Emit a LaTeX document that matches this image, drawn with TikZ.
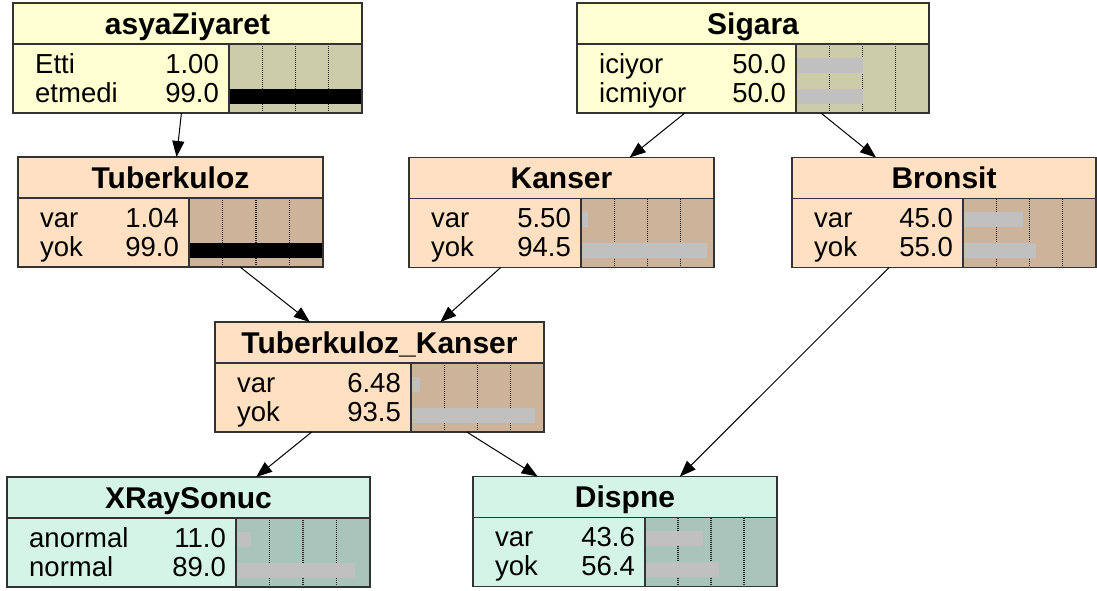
\documentclass[tikz,border=0pt]{standalone}
\usepackage{fontspec}
\setmainfont{Liberation Sans}
\usetikzlibrary{arrows.meta}
\definecolor{ylw}{HTML}{FFFFD2}
\definecolor{ylwbar}{HTML}{CCCBAA}
\definecolor{pch}{HTML}{FFE0C2}
\definecolor{pchbar}{HTML}{CCB399}
\definecolor{mnt}{HTML}{D4F4E8}
\definecolor{mntbar}{HTML}{A9C4BA}
\definecolor{barg}{HTML}{C0C0C0}
\definecolor{bord}{HTML}{333333}
\tikzset{
  bnshape/.style={rectangle, inner sep=0pt, outer sep=0pt, anchor=north west},
  bnline/.style={draw=bord, line width=1.4pt},
  gridline/.style={draw=black!85, line width=1.1pt, dash pattern=on 1pt off 1pt},
  titletext/.style={anchor=base, inner sep=0pt, font=\fontsize{30}{30}\selectfont\bfseries},
  statetext/.style={anchor=base west, inner sep=0pt, font=\fontsize{27.5}{27.5}\selectfont},
  valtext/.style={anchor=base east, inner sep=0pt, font=\fontsize{27.5}{27.5}\selectfont},
  link/.style={draw=black, line width=1pt, -{Triangle[length=16pt,width=12pt]}},
}
% #1 name, #2 x0, #3 y0, #4 x1, #5 bar x, #6 title, #7 fill, #8 bar area fill
\newcommand{\bnnode}[8]{%
  \def\BNname{#1}\def\BNx{#2}\def\BNy{#3}\def\BNxx{#4}\def\BNbar{#5}%
  \node[bnshape, fill=#7, minimum width={#4-#2}, minimum height=110] (#1) at (#2,#3) {};
  \fill[#8] (#5,#3+41) rectangle (#4,#3+110);
  \draw[gridline] ({#5+(#4-#5)*0.25},#3+41) -- ++(0,69);
  \draw[gridline] ({#5+(#4-#5)*0.5},#3+41) -- ++(0,69);
  \draw[gridline] ({#5+(#4-#5)*0.75},#3+41) -- ++(0,69);
  \node[titletext] (#1-title) at ({(#2+#4)/2},#3+31) {#6};
}
% #1 row id, #2 text baseline offset, #3 bar top offset, #4 state, #5 value, #6 percent, #7 bar colour
\newcommand{\bnrow}[7]{%
  \node[statetext] (\BNname-s#1) at (\BNx+22,\BNy+#2) {#4};
  \node[valtext] (\BNname-v#1) at (\BNbar-10,\BNy+#2) {#5};
  \fill[#7] (\BNbar,\BNy+#3) rectangle ({\BNbar+(\BNxx-\BNbar)*#6/100},\BNy+#3+15);
}
\newcommand{\bnend}{%
  \draw[bnline] (\BNx,\BNy+41) -- (\BNxx,\BNy+41);
  \draw[bnline] (\BNbar,\BNy+41) -- (\BNbar,\BNy+110);
  \draw[bnline] (\BNname.north west) rectangle (\BNname.south east);
}
\begin{document}
\begin{tikzpicture}[x=1pt,y=-1pt]
\fill[white] (0,0) rectangle (1097,590);
\useasboundingbox (0,0) rectangle (1097,590);

\bnnode{asya}{13}{3}{362}{229}{asyaZiyaret}{ylw}{ylwbar}
\bnrow{1}{70}{54.5}{Etti}{1.00}{0}{black}
\bnrow{2}{99}{85.5}{etmedi}{99.0}{99}{black}
\bnend

\bnnode{sig}{577}{3}{929}{796}{Sigara}{ylw}{ylwbar}
\bnrow{1}{70}{54.5}{iciyor}{50.0}{50}{barg}
\bnrow{2}{99}{85.5}{icmiyor}{50.0}{50}{barg}
\bnend

\bnnode{tub}{18}{157}{323}{189}{Tuberkuloz}{pch}{pchbar}
\bnrow{1}{70}{54.5}{var}{1.04}{0}{black}
\bnrow{2}{99}{85.5}{yok}{99.0}{99}{black}
\bnend

\bnnode{kan}{409}{157.5}{714}{581}{Kanser}{pch}{pchbar}
\bnrow{1}{70}{54.5}{var}{5.50}{5.5}{barg}
\bnrow{2}{99}{85.5}{yok}{94.5}{94.5}{barg}
\bnend

\bnnode{bro}{792}{157.5}{1096}{963}{Bronsit}{pch}{pchbar}
\bnrow{1}{70}{54.5}{var}{45.0}{45}{barg}
\bnrow{2}{99}{85.5}{yok}{55.0}{55}{barg}
\bnend

\bnnode{tk}{215}{322}{544}{411}{Tuberkuloz\_Kanser}{pch}{pchbar}
\bnrow{1}{70}{54.5}{var}{6.48}{6.48}{barg}
\bnrow{2}{99}{85.5}{yok}{93.5}{93.5}{barg}
\bnend

\bnnode{xray}{7}{477}{370}{236}{XRaySonuc}{mnt}{mntbar}
\bnrow{1}{70}{54.5}{anormal}{11.0}{11}{barg}
\bnrow{2}{99}{85.5}{normal}{89.0}{89}{barg}
\bnend

\bnnode{disp}{473}{476.5}{777}{645}{Dispne}{mnt}{mntbar}
\bnrow{1}{70}{54.5}{var}{43.6}{43.6}{barg}
\bnrow{2}{99}{85.5}{yok}{56.4}{56.4}{barg}
\bnend

\draw[link] (asya) -- (tub);
\draw[link] (sig) -- (kan);
\draw[link] (sig) -- (bro);
\draw[link] (tub) -- (tk);
\draw[link] (kan) -- (tk);
\draw[link] (tk) -- (xray);
\draw[link] (tk) -- (disp);
\draw[link] (bro) -- (disp);
\end{tikzpicture}
\end{document}
